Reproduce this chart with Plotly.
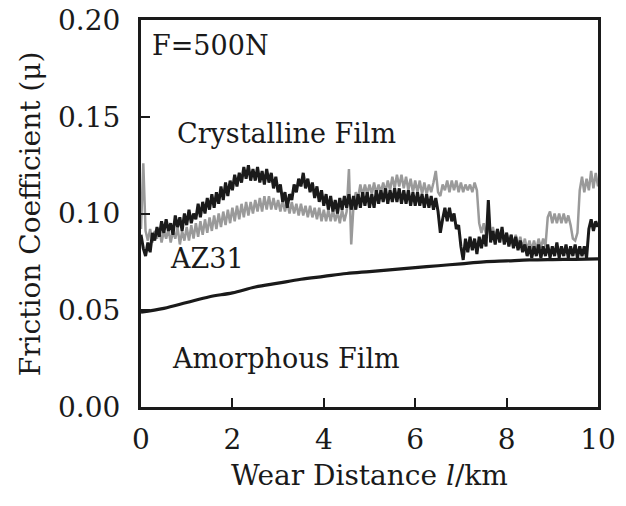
import plotly.graph_objects as go

# Wear distance grid (km) for the two noisy traces
x_noisy = [round(i * 0.05, 2) for i in range(201)]

# Black trace
mu_black = [
    0.089, 0.082, 0.078, 0.085, 0.080, 0.090, 0.086, 0.093, 0.088, 0.096,
    0.090, 0.097, 0.091, 0.095, 0.089, 0.099, 0.093, 0.098, 0.091, 0.100,
    0.094, 0.102, 0.095, 0.100, 0.097, 0.105, 0.098, 0.106, 0.100, 0.108,
    0.102, 0.110, 0.103, 0.111, 0.105, 0.114, 0.107, 0.116, 0.109, 0.117,
    0.112, 0.120, 0.114, 0.121, 0.116, 0.124, 0.118, 0.125, 0.117, 0.123,
    0.117, 0.124, 0.116, 0.122, 0.115, 0.123, 0.116, 0.121, 0.113, 0.119,
    0.111, 0.115, 0.106, 0.111, 0.103, 0.110, 0.107, 0.115, 0.111, 0.118,
    0.114, 0.121, 0.113, 0.118, 0.111, 0.116, 0.108, 0.114, 0.106, 0.112,
    0.104, 0.110, 0.102, 0.109, 0.101, 0.107, 0.100, 0.108, 0.102, 0.109,
    0.103, 0.110, 0.102, 0.109, 0.102, 0.110, 0.103, 0.111, 0.104, 0.111,
    0.103, 0.110, 0.103, 0.112, 0.105, 0.112, 0.106, 0.113, 0.105, 0.112,
    0.106, 0.113, 0.106, 0.113, 0.105, 0.112, 0.105, 0.112, 0.104, 0.111,
    0.104, 0.111, 0.104, 0.110, 0.103, 0.110, 0.103, 0.109, 0.102, 0.108,
    0.101, 0.090, 0.097, 0.103, 0.096, 0.103, 0.096, 0.100, 0.092, 0.094,
    0.083, 0.076, 0.087, 0.080, 0.088, 0.081, 0.087, 0.079, 0.088, 0.082,
    0.089, 0.083, 0.107, 0.085, 0.091, 0.084, 0.092, 0.085, 0.093, 0.084,
    0.090, 0.083, 0.089, 0.082, 0.088, 0.081, 0.086, 0.080, 0.084, 0.078,
    0.083, 0.077, 0.083, 0.078, 0.084, 0.077, 0.083, 0.078, 0.084, 0.077,
    0.083, 0.078, 0.085, 0.077, 0.083, 0.078, 0.084, 0.077, 0.083, 0.078,
    0.084, 0.077, 0.083, 0.078, 0.083, 0.077, 0.092, 0.097, 0.091, 0.096,
    0.093,
]

# Grey trace
mu_grey = [
    0.092, 0.126, 0.091, 0.086, 0.092, 0.085, 0.091, 0.087, 0.092, 0.085,
    0.091, 0.087, 0.092, 0.085, 0.091, 0.087, 0.093, 0.084, 0.091, 0.086,
    0.093, 0.086, 0.094, 0.087, 0.095, 0.088, 0.096, 0.089, 0.097, 0.090,
    0.098, 0.091, 0.099, 0.092, 0.100, 0.093, 0.101, 0.094, 0.102, 0.095,
    0.103, 0.096, 0.104, 0.097, 0.105, 0.098, 0.106, 0.099, 0.106, 0.100,
    0.107, 0.101, 0.108, 0.101, 0.109, 0.102, 0.109, 0.102, 0.108, 0.102,
    0.107, 0.101, 0.107, 0.101, 0.106, 0.100, 0.106, 0.100, 0.105, 0.099,
    0.105, 0.099, 0.104, 0.098, 0.104, 0.098, 0.103, 0.097, 0.103, 0.096,
    0.102, 0.096, 0.102, 0.096, 0.102, 0.096, 0.101, 0.095, 0.102, 0.096,
    0.101, 0.123, 0.084, 0.104, 0.111, 0.108, 0.115, 0.109, 0.115, 0.110,
    0.115, 0.110, 0.116, 0.110, 0.115, 0.111, 0.116, 0.111, 0.117, 0.112,
    0.119, 0.113, 0.120, 0.114, 0.120, 0.113, 0.119, 0.112, 0.118, 0.111,
    0.117, 0.111, 0.117, 0.110, 0.116, 0.110, 0.115, 0.111, 0.116, 0.122,
    0.111, 0.109, 0.115, 0.112, 0.117, 0.111, 0.117, 0.112, 0.117, 0.111,
    0.116, 0.111, 0.115, 0.112, 0.115, 0.111, 0.116, 0.112, 0.095, 0.090,
    0.095, 0.089, 0.094, 0.088, 0.093, 0.087, 0.092, 0.086, 0.091, 0.085,
    0.090, 0.084, 0.089, 0.084, 0.089, 0.083, 0.088, 0.082, 0.087, 0.081,
    0.086, 0.081, 0.086, 0.081, 0.087, 0.082, 0.087, 0.083, 0.098, 0.101,
    0.095, 0.100, 0.095, 0.100, 0.095, 0.100, 0.095, 0.099, 0.094, 0.087,
    0.086, 0.090, 0.112, 0.119, 0.111, 0.118, 0.112, 0.122, 0.113, 0.121,
    0.114,
]

# Amorphous film (smooth)
x_amorph = [0.0, 0.5, 1.0, 1.5, 2.0, 2.5, 3.0, 3.5, 4.0, 4.5, 5.0,
            5.5, 6.0, 6.5, 7.0, 7.5, 8.0, 8.5, 9.0, 9.5, 10.0]
mu_amorph = [0.049, 0.051, 0.054, 0.057, 0.059, 0.062, 0.064, 0.066, 0.0675, 0.069, 0.070,
             0.071, 0.072, 0.073, 0.074, 0.075, 0.0755, 0.076, 0.0762, 0.0763, 0.0765]

x_ticks = [0, 2, 4, 6, 8, 10]
y_ticks = [0.00, 0.05, 0.10, 0.15, 0.20]
y_tick_text = ["0.00", "0.05", "0.10", "0.15", "0.20"]

FONT = "DejaVu Serif"
INK = "#1a1a1a"

fig = go.Figure()
fig.add_trace(go.Scatter(x=x_noisy, y=mu_grey, mode="lines",
                         line=dict(color="#9a9a9a", width=2.5), showlegend=False))
fig.add_trace(go.Scatter(x=x_noisy, y=mu_black, mode="lines",
                         line=dict(color=INK, width=3), showlegend=False))
fig.add_trace(go.Scatter(x=x_amorph, y=mu_amorph, mode="lines",
                         line=dict(color=INK, width=3.2, shape="spline"), showlegend=False))

ann_font = dict(family=FONT, size=27, color=INK)
for txt, ax, ay in [("F=500N", 0.20, 0.187), ("Crystalline Film", 0.74, 0.1416),
                    ("AZ31", 0.60, 0.077), ("Amorphous Film", 0.63, 0.0253)]:
    fig.add_annotation(x=ax, y=ay, xref="x", yref="y", text=txt, showarrow=False,
                       xanchor="left", yanchor="middle", font=ann_font)

# Axis titles placed as paper annotations
title_font = dict(family=FONT, size=28, color=INK)
fig.add_annotation(x=-0.24, y=0.499, xref="paper", yref="paper",
                   text="Friction Coefficient (μ)", textangle=-90, showarrow=False,
                   xanchor="center", yanchor="middle", font=title_font)
fig.add_annotation(x=0.501, y=-0.178, xref="paper", yref="paper",
                   text="Wear Distance <i>l</i>/km", showarrow=False,
                   xanchor="center", yanchor="middle", font=title_font)

fig.update_layout(
    width=610, height=490,
    margin=dict(l=133, r=20, t=12, b=91, autoexpand=False),
    paper_bgcolor="white", plot_bgcolor="white",
    font=dict(family=FONT, size=27, color=INK),
    xaxis=dict(range=[0, 10], tickvals=x_ticks, ticks="inside", ticklen=9, tickwidth=2,
               tickcolor=INK, showline=True, linecolor=INK, linewidth=3,
               mirror=True, showgrid=False, zeroline=False, ticklabelstandoff=5,
               automargin=False, ticklabeloverflow="allow",
               tickfont=dict(family=FONT, size=28, color=INK)),
    yaxis=dict(range=[0, 0.20], tickvals=y_ticks, ticktext=y_tick_text, ticks="inside",
               ticklen=9, tickwidth=2, tickcolor=INK, showline=True,
               linecolor=INK, linewidth=3, mirror=True, showgrid=False,
               zeroline=False, ticklabelstandoff=12, automargin=False,
               ticklabeloverflow="allow",
               tickfont=dict(family=FONT, size=28, color=INK)),
)

fig.write_html("out.html")
